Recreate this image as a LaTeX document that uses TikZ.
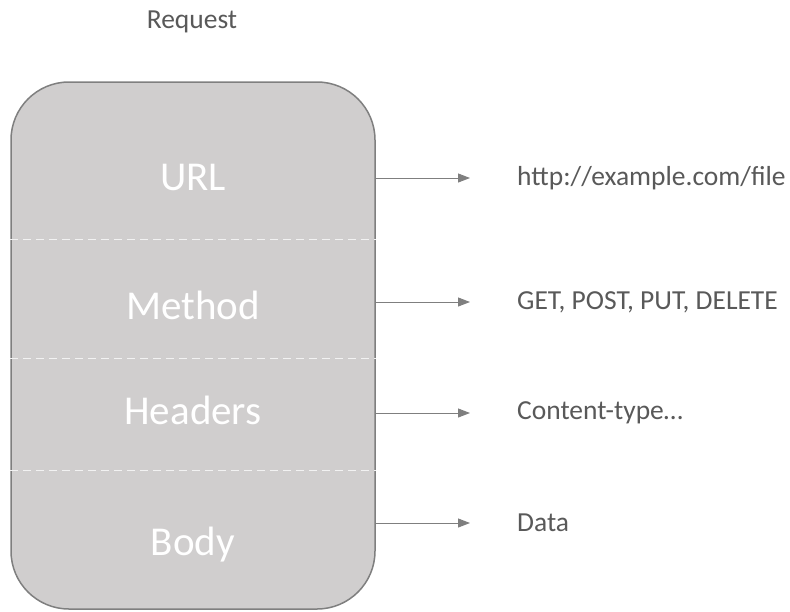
\documentclass[tikz,border=0pt]{standalone}
\usepackage{fontspec}
\setmainfont{Carlito}
\usetikzlibrary{arrows.meta}
\definecolor{boxfill}{HTML}{D0CECE}
\definecolor{edgegrey}{HTML}{7F7F7F}
\definecolor{textgrey}{HTML}{595959}
\definecolor{sepwhite}{HTML}{F2F2F2}
\tikzset{
  field/.style={text=white, font=\fontsize{41}{41}\selectfont, inner sep=0pt},
  valuelabel/.style={text=textgrey, font=\fontsize{27.5}{27.5}\selectfont, anchor=west, inner sep=0pt},
  pointer/.style={draw=edgegrey, line width=1pt, -{Triangle[length=12pt,width=9pt]}},
  separator/.style={draw=sepwhite, line width=1pt, dash pattern=on 8pt off 5pt},
}
\begin{document}
\begin{tikzpicture}[x=1pt,y=-1pt]
  \useasboundingbox (0,0) rectangle (790,611);
  % title
  \node[valuelabel, anchor=center] (title) at (192,22) {Request};
  % request container
  \node[draw=edgegrey, fill=boxfill, line width=1.5pt, rounded corners=58pt,
        minimum width=364pt, minimum height=527pt, inner sep=0pt] (req) at (193,345.5) {};
  % section separators
  \foreach \y/\n in {239/a,358/b,470/c} {
    \coordinate (s\n) at (193,\y);
    \draw[separator] (req.west |- s\n) -- (req.east |- s\n);
  }
  % field names
  \node[field] (url) at (193,177) {URL};
  \node[field] (method) at (193,305) {Method};
  \node[field] (headers) at (193,410) {Headers};
  \node[field] (body) at (193,545) {Body};
  % values
  \node[valuelabel] (urlv) at (517,178) {http://example.com/file};
  \node[valuelabel] (methodv) at (517,302) {GET, POST, PUT, DELETE};
  \node[valuelabel] (headersv) at (517,413) {Content-type…};
  \node[valuelabel] (bodyv) at (517,523) {Data};
  % pointers
  \foreach \v in {urlv,methodv,headersv,bodyv} {
    \draw[pointer] (req.east |- \v.west) -- ([xshift=-47pt]\v.west);
  }
\end{tikzpicture}
\end{document}
